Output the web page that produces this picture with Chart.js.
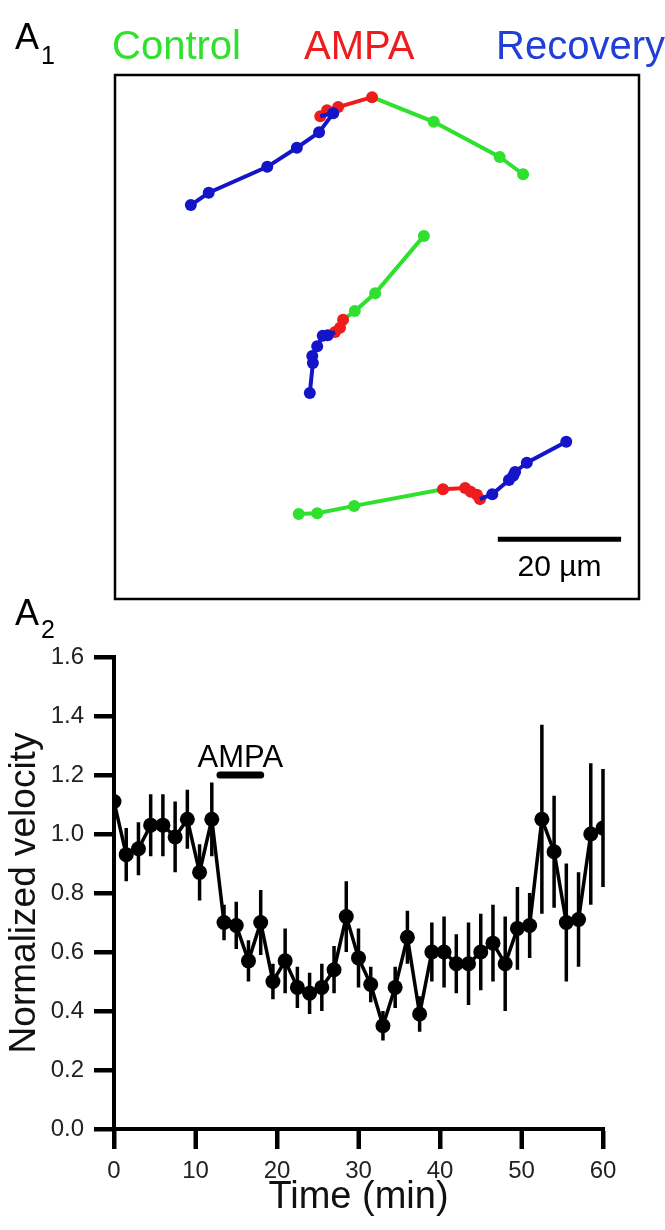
<!DOCTYPE html>
<html>
<head>
<meta charset="utf-8">
<script src="https://cdn.jsdelivr.net/npm/chart.js@4.4.1/dist/chart.umd.min.js"></script>
<style>
    body { margin: 0; background: #fff; width: 665px; height: 1230px; position: relative; overflow: hidden; }
    #trackChart { position: absolute; left: 0; top: 0; }
    #velocityChart { position: absolute; left: 0; top: 590px; }
</style>
</head>
<body>
<canvas id="trackChart" width="665" height="610"></canvas>
<canvas id="velocityChart" width="665" height="640"></canvas>
<script>
// ---- Panel A1: growth cone tracks, [x, y] in µm ----
const track1Control  = [[66.2, 68.9], [62.4, 71.7], [51.7, 77.4]];
const track1Ampa     = [[41.7, 81.4], [36.2, 79.8], [34.4, 79.3], [33.3, 78.3]];
const track1Recovery = [[35.4, 78.8], [33.1, 75.7], [29.5, 73.2], [24.7, 70.1], [15.2, 65.9], [12.3, 63.9]];

const track2Control  = [[50.1, 58.9], [42.2, 49.6], [38.9, 46.7]];
const track2Ampa     = [[37.0, 45.3], [36.5, 44.0], [35.7, 43.3]];
const track2Recovery = [[34.5, 42.8], [33.7, 42.7], [32.8, 41.0], [32.0, 39.4], [32.1, 38.3], [31.6, 33.4]];

const track3Control  = [[29.8, 13.8], [32.8, 13.9], [38.8, 15.1]];
const track3Ampa     = [[53.2, 17.8], [56.8, 18.0], [57.7, 17.4], [58.7, 16.9], [59.2, 16.2]];
const track3Recovery = [[61.2, 17.0], [63.9, 19.3], [64.6, 20.0], [64.9, 20.6], [66.8, 22.1], [73.2, 25.5]];

const fieldUm = [0, 85];
const scaleBarX = [62.1, 82.1];   // 20 µm
const scaleBarY = 9.7;
const legendLabels = ['Control', 'AMPA', 'Recovery'];

// ---- Panel A2: normalized velocity ----
const timeMin = [0, 1.5, 3, 4.5, 6, 7.5, 9, 10.5, 12, 13.5, 15, 16.5, 18, 19.5, 21, 22.5, 24, 25.5, 27, 28.5,
    30, 31.5, 33, 34.5, 36, 37.5, 39, 40.5, 42, 43.5, 45, 46.5, 48, 49.5, 51, 52.5, 54, 55.5, 57, 58.5, 60];
const velocity = [1.11, 0.93, 0.95, 1.03, 1.03, 0.99, 1.05, 0.87, 1.05, 0.70, 0.69, 0.57, 0.70, 0.50, 0.57, 0.48, 0.46, 0.48, 0.54, 0.72,
    0.58, 0.49, 0.35, 0.48, 0.65, 0.39, 0.60, 0.60, 0.56, 0.56, 0.60, 0.63, 0.56, 0.68, 0.69, 1.05, 0.94, 0.70, 0.71, 1.00, 1.02];
const velocityErr = [0.02, 0.09, 0.09, 0.105, 0.105, 0.12, 0.10, 0.095, 0.125, 0.06, 0.08, 0.07, 0.11, 0.06, 0.11, 0.07, 0.07, 0.08, 0.08, 0.12,
    0.10, 0.06, 0.05, 0.07, 0.09, 0.06, 0.10, 0.12, 0.10, 0.14, 0.13, 0.13, 0.16, 0.14, 0.11, 0.32, 0.19, 0.20, 0.16, 0.24, 0.20];
const xTicks = [0, 10, 20, 30, 40, 50, 60];
const yTicks = [0, 0.2, 0.4, 0.6, 0.8, 1.0, 1.2, 1.4, 1.6];
const ampaWindow = [13, 18];
const ampaLevel = 1.2;

const FONT = "'Liberation Sans', Arial, sans-serif";
const GREEN = '#2fe02f';
const RED = '#ee1c1c';
const BLUE = '#1414c8';
const TICK_LEN = 20;
const TICK_W = 4;

function toPts(arr) {
    return arr.map(p => ({ x: p[0], y: p[1] }));
}

// green leads into the first AMPA point, blue starts at the last AMPA point
function trackSets(control, ampa, recovery) {
    const base = { showLine: true, borderWidth: 4, tension: 0, pointBorderWidth: 0 };
    const blue = [ampa[ampa.length - 1]].concat(recovery);
    const green = control.concat([ampa[0]]);
    return [
        Object.assign({}, base, {
            data: toPts(blue), borderColor: BLUE, pointBackgroundColor: BLUE,
            pointRadius: ctx => ctx.dataIndex === 0 ? 0 : 6
        }),
        Object.assign({}, base, {
            data: toPts(ampa), borderColor: RED, pointBackgroundColor: RED, pointRadius: 6
        }),
        Object.assign({}, base, {
            data: toPts(green), borderColor: GREEN, pointBackgroundColor: GREEN,
            pointRadius: ctx => ctx.dataIndex === green.length - 1 ? 0 : 6
        })
    ];
}

const trackDatasets = []
    .concat(trackSets(track1Control, track1Ampa, track1Recovery))
    .concat(trackSets(track2Control, track2Ampa, track2Recovery))
    .concat(trackSets(track3Control, track3Ampa, track3Recovery));

trackDatasets.push({
    data: [{ x: scaleBarX[0], y: scaleBarY }, { x: scaleBarX[1], y: scaleBarY }],
    showLine: true, borderColor: '#000', borderWidth: 5, pointRadius: 0, borderCapStyle: 'butt'
});

const trackDecor = {
    id: 'trackDecor',
    afterDraw(chart) {
        const { ctx, chartArea: a, scales } = chart;
        ctx.save();
        // frame
        ctx.strokeStyle = '#000';
        ctx.lineWidth = 2.5;
        ctx.strokeRect(a.left, a.top, a.right - a.left, a.bottom - a.top);
        // panel label
        ctx.fillStyle = '#000';
        ctx.textBaseline = 'alphabetic';
        ctx.textAlign = 'left';
        ctx.font = '36px ' + FONT;
        ctx.fillText('A', 15, 49);
        ctx.font = '25px ' + FONT;
        ctx.fillText('1', 41, 64);
        // legend
        const colors = [GREEN, RED, '#1f3fd8'];
        const xs = [112, 304, 496];
        ctx.font = '40px ' + FONT;
        legendLabels.forEach((t, i) => {
            ctx.fillStyle = colors[i];
            ctx.fillText(t, xs[i], 59);
        });
        // scale bar label
        ctx.fillStyle = '#000';
        ctx.textAlign = 'center';
        ctx.font = '30px ' + FONT;
        const cx = scales.x.getPixelForValue((scaleBarX[0] + scaleBarX[1]) / 2);
        ctx.fillText('20 µm', cx, scales.y.getPixelForValue(scaleBarY) + 37);
        ctx.restore();
    }
};

new Chart(document.getElementById('trackChart'), {
    type: 'scatter',
    data: { datasets: trackDatasets },
    options: {
        responsive: false,
        animation: false,
        layout: { padding: { left: 115, right: 26, top: 75, bottom: 11 } },
        scales: {
            x: { display: false, min: fieldUm[0], max: fieldUm[1] },
            y: { display: false, min: fieldUm[0], max: fieldUm[1] }
        },
        plugins: { legend: { display: false }, tooltip: { enabled: false } }
    },
    plugins: [trackDecor]
});

// error bars under the points; tick marks, AMPA label and panel label on top
const velocityDecor = {
    id: 'velocityDecor',
    beforeDatasetsDraw(chart) {
        const { ctx, scales } = chart;
        ctx.save();
        ctx.strokeStyle = '#000';
        ctx.lineWidth = 3.5;
        ctx.beginPath();
        timeMin.forEach((t, i) => {
            const x = scales.x.getPixelForValue(t);
            ctx.moveTo(x, scales.y.getPixelForValue(velocity[i] - velocityErr[i]));
            ctx.lineTo(x, scales.y.getPixelForValue(velocity[i] + velocityErr[i]));
        });
        ctx.stroke();
        ctx.restore();
    },
    afterDraw(chart) {
        const { ctx, scales } = chart;
        const left = scales.x.left;
        const bottom = scales.y.bottom;
        ctx.save();
        ctx.fillStyle = '#000';
        yTicks.forEach(v => {
            const py = Math.round(scales.y.getPixelForValue(v));
            ctx.fillRect(left - TICK_LEN, py - TICK_W / 2, TICK_LEN + 2, TICK_W);
        });
        xTicks.forEach(v => {
            const px = Math.round(scales.x.getPixelForValue(v));
            ctx.fillRect(px - TICK_W / 2, bottom - 2, TICK_W, TICK_LEN + 2);
        });

        ctx.font = '31px ' + FONT;
        ctx.textAlign = 'center';
        ctx.textBaseline = 'alphabetic';
        ctx.fillText('AMPA', scales.x.getPixelForValue((ampaWindow[0] + ampaWindow[1]) / 2), scales.y.getPixelForValue(ampaLevel) - 8);
        ctx.font = '36px ' + FONT;
        ctx.textAlign = 'left';
        ctx.fillText('A', 15, 35);
        ctx.font = '25px ' + FONT;
        ctx.fillText('2', 41, 48);
        ctx.restore();
    }
};

const axisGrid = { display: true, drawOnChartArea: false, drawTicks: true, tickLength: TICK_LEN, tickColor: '#000', tickWidth: TICK_W };

new Chart(document.getElementById('velocityChart'), {
    type: 'scatter',
    data: {
        datasets: [
            {
                data: timeMin.map((t, i) => ({ x: t, y: velocity[i] })),
                showLine: true,
                borderColor: '#000',
                borderWidth: 3.5,
                tension: 0,
                pointRadius: 7.5,
                pointBackgroundColor: '#000',
                pointBorderWidth: 0
            },
            {
                data: ampaWindow.map(t => ({ x: t, y: ampaLevel })),
                showLine: true,
                borderColor: '#000',
                borderWidth: 7,
                borderCapStyle: 'round',
                pointRadius: 0
            }
        ]
    },
    options: {
        responsive: false,
        animation: false,
        layout: { padding: { left: 0, right: 62, top: 67, bottom: 0 } },
        scales: {
            x: {
                type: 'linear',
                min: 0,
                max: 60,
                afterFit: s => { s.height = 101; },
                afterBuildTicks: s => { s.ticks = xTicks.map(v => ({ value: v })); },
                grid: axisGrid,
                border: { color: '#000', width: 4 },
                ticks: { color: '#222', padding: 8, font: { family: FONT, size: 24 } },
                title: { display: true, text: 'Time (min)', color: '#111', padding: { bottom: 10 }, font: { family: FONT, size: 38 } }
            },
            y: {
                min: 0,
                max: 1.6,
                afterFit: s => { s.width = 114; },
                afterBuildTicks: s => { s.ticks = yTicks.map(v => ({ value: v })); },
                grid: axisGrid,
                border: { color: '#000', width: 4 },
                ticks: { color: '#222', padding: 10, font: { family: FONT, size: 24 }, callback: v => v.toFixed(1) },
                title: { display: true, text: 'Normalized velocity', color: '#111', padding: { top: 3 }, font: { family: FONT, size: 37 } }
            }
        },
        plugins: { legend: { display: false }, tooltip: { enabled: false } }
    },
    plugins: [velocityDecor]
});
</script>
</body>
</html>
